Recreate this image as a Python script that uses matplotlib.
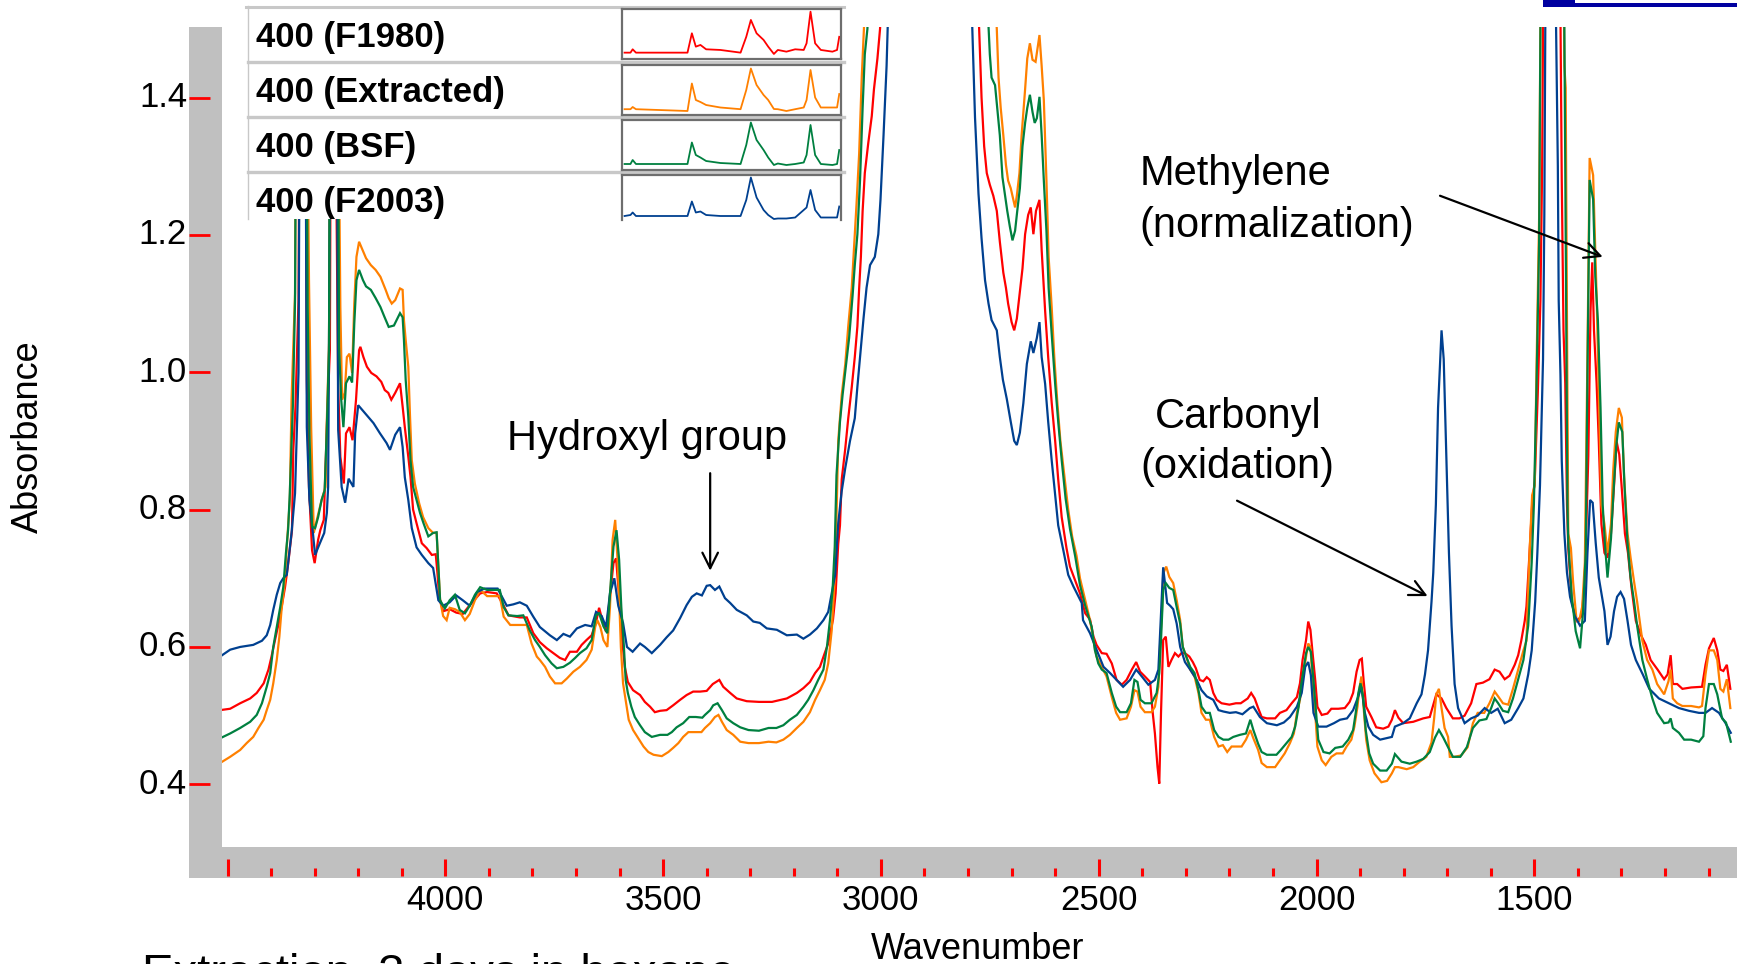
import numpy as np
import matplotlib
matplotlib.use("Agg")
import matplotlib.pyplot as plt
from matplotlib.patches import Rectangle
from matplotlib.transforms import blended_transform_factory

# ---------------- data (wavenumber, absorbance) ----------------
f1980 = [(4517, .508), (4494, .51), (4471, .518), (4448, .525), (4433, .533), (4417, .547), (4406, .567),
         (4399, .586), (4391, .61), (4381, .639), (4368, .687), (4361, .72), (4352, .77), (4349, .887),
         (4344, .95), (4337, 1.105), (4333, 1.6), (4322, 1.6), (4318, .989), (4313, .833), (4306, .741),
         (4300, .722), (4292, .756), (4287, .77), (4279, .785), (4272, .92), (4265, 1.032), (4262, 1.6),
         (4255, 1.6), (4246, .979), (4241, .877), (4233, .838), (4228, .911), (4220, .92), (4213, .901),
         (4205, .96), (4198, 1.032), (4195, 1.037), (4188, 1.022), (4180, 1.008), (4170, .999), (4158, .994),
         (4147, .986), (4139, .974), (4131, .97), (4124, .96), (4115, .97), (4104, .984), (4098, .95),
         (4093, .92), (4085, .877), (4080, .848), (4074, .80), (4066, .78), (4054, .751), (4043, .744),
         (4031, .734), (4022, .735), (4018, .707), (4014, .673), (4005, .652), (3990, .655), (3975, .65),
         (3960, .648), (3945, .66), (3920, .678), (3904, .68), (3882, .678), (3866, .66), (3855, .646),
         (3829, .643), (3813, .643), (3798, .62), (3783, .607), (3767, .598), (3752, .591), (3737, .584),
         (3725, .581), (3714, .593), (3698, .593), (3687, .603), (3676, .61), (3664, .617), (3653, .639),
         (3647, .657), (3640, .64), (3631, .622), (3623, .668), (3614, .722), (3608, .729), (3601, .673),
         (3596, .624), (3588, .571), (3581, .549), (3569, .537), (3553, .53), (3542, .52), (3530, .513),
         (3519, .505), (3507, .507), (3492, .508), (3477, .515), (3461, .523), (3446, .53), (3431, .535),
         (3415, .535), (3400, .536), (3386, .546), (3371, .552), (3362, .542), (3346, .533), (3331, .525),
         (3308, .521), (3280, .52), (3250, .52), (3216, .525), (3193, .533), (3178, .54), (3163, .549),
         (3151, .562), (3140, .571), (3129, .591), (3121, .605), (3110, .64), (3104, .678), (3098, .75),
         (3094, .777), (3090, .844), (3082, .888), (3075, .933), (3067, .978), (3060, 1.022), (3054, 1.067),
         (3050, 1.122), (3046, 1.168), (3042, 1.235), (3037, 1.29), (3029, 1.334), (3021, 1.373),
         (3016, 1.412), (3008, 1.457), (3002, 1.50), (2995, 1.6), (2780, 1.6), (2769, 1.40), (2763, 1.329),
         (2757, 1.29), (2750, 1.273), (2742, 1.257), (2734, 1.235), (2727, 1.19), (2719, 1.145),
         (2713, 1.123), (2708, 1.10), (2700, 1.073), (2694, 1.061), (2688, 1.078), (2682, 1.112),
         (2675, 1.151), (2669, 1.201), (2662, 1.229), (2656, 1.24), (2650, 1.201), (2644, 1.235),
         (2636, 1.251), (2631, 1.178), (2623, 1.089), (2616, 1.022), (2608, .956), (2600, .90), (2593, .844),
         (2585, .789), (2574, .744), (2566, .717), (2556, .70), (2543, .678), (2531, .649), (2520, .64),
         (2512, .615), (2505, .603), (2493, .591), (2482, .59), (2470, .576), (2459, .552), (2447, .545),
         (2436, .552), (2424, .567), (2414, .578), (2405, .564), (2394, .557), (2382, .549), (2376, .504),
         (2371, .474), (2365, .425), (2361, .401), (2357, .504), (2352, .61), (2346, .615), (2340, .571),
         (2333, .581), (2325, .591), (2317, .586), (2310, .591), (2302, .591), (2292, .586), (2284, .578),
         (2277, .569), (2268, .552), (2260, .55), (2252, .556), (2245, .552), (2237, .533), (2229, .523),
         (2218, .518), (2200, .516), (2185, .518), (2174, .518), (2158, .525), (2150, .533), (2142, .525),
         (2134, .511), (2126, .498), (2114, .496), (2095, .496), (2084, .504), (2069, .508), (2057, .518),
         (2045, .527), (2038, .547), (2032, .581), (2024, .61), (2019, .637), (2014, .625), (2009, .591),
         (2003, .552), (1998, .513), (1988, .501), (1975, .503), (1966, .51), (1950, .51), (1935, .511),
         (1924, .52), (1916, .533), (1908, .564), (1901, .581), (1896, .583), (1892, .552), (1886, .513),
         (1874, .498), (1863, .483), (1847, .481), (1835, .484), (1827, .494), (1820, .508), (1812, .497),
         (1801, .489), (1778, .491), (1755, .496), (1740, .498), (1725, .531), (1713, .525), (1702, .511),
         (1687, .496), (1672, .496), (1660, .50), (1645, .518), (1633, .546), (1618, .548), (1603, .553),
         (1591, .567), (1580, .564), (1568, .553), (1557, .558), (1545, .574), (1537, .588), (1530, .609),
         (1522, .638), (1518, .659), (1511, .737), (1505, .807), (1499, .842), (1492, .97), (1486, 1.104),
         (1482, 1.301), (1479, 1.6), (1441, 1.6), (1437, 1.28), (1433, 1.061), (1429, .984), (1425, .807),
         (1422, .744), (1414, .666), (1403, .638), (1391, .645), (1384, .701), (1376, .878), (1371, 1.089),
         (1367, 1.16), (1363, 1.061), (1357, .984), (1352, .899), (1346, .779), (1339, .737), (1332, .73),
         (1324, .765), (1317, .835), (1311, .899), (1305, .88), (1299, .829), (1292, .765), (1285, .737),
         (1277, .687), (1267, .638), (1255, .617), (1244, .603), (1233, .581), (1217, .567), (1202, .553),
         (1194, .56), (1187, .588), (1182, .546), (1172, .546), (1160, .539), (1140, .541), (1115, .542),
         (1107, .574), (1099, .598), (1088, .613), (1080, .595), (1073, .567), (1066, .565), (1058, .574),
         (1050, .539)]

extracted = [(4517, .431), (4494, .44), (4471, .45), (4456, .46), (4441, .469), (4429, .482), (4417, .494),
             (4410, .508), (4402, .523), (4395, .547), (4387, .581), (4381, .615), (4376, .654), (4368, .698),
             (4364, .746), (4357, .814), (4353, .96), (4345, 1.115), (4342, 1.6), (4320, 1.6), (4313, 1.134),
             (4308, .92), (4302, .766), (4295, .785), (4284, .814), (4275, .833), (4272, .931), (4267, 1.042),
             (4264, 1.6), (4248, 1.6), (4241, 1.095), (4237, .96), (4231, .97), (4226, 1.022), (4220, 1.027),
             (4214, .999), (4209, 1.10), (4204, 1.168), (4198, 1.19), (4190, 1.178), (4182, 1.166),
             (4171, 1.156), (4160, 1.149), (4149, 1.139), (4137, 1.12), (4130, 1.108), (4123, 1.10),
             (4115, 1.105), (4104, 1.122), (4098, 1.12), (4095, 1.076), (4091, 1.047), (4085, 1.008),
             (4081, .935), (4077, .872), (4070, .838), (4060, .809), (4051, .789), (4039, .773), (4028, .766),
             (4020, .766), (4016, .717), (4012, .668), (4005, .645), (3997, .639), (3990, .657), (3978, .655),
             (3967, .651), (3955, .639), (3944, .648), (3932, .668), (3920, .683), (3904, .674), (3875, .674),
             (3866, .644), (3851, .632), (3830, .632), (3813, .632), (3802, .605), (3790, .586), (3783, .581),
             (3771, .571), (3760, .557), (3748, .547), (3733, .547), (3721, .554), (3706, .564), (3691, .571),
             (3676, .581), (3664, .596), (3656, .629), (3651, .639), (3644, .629), (3637, .61), (3628, .60),
             (3622, .658), (3616, .756), (3610, .785), (3605, .731), (3601, .673), (3597, .60), (3592, .547),
             (3586, .523), (3579, .494), (3569, .479), (3557, .467), (3545, .455), (3534, .447), (3522, .443),
             (3503, .441), (3488, .447), (3477, .453), (3465, .46), (3454, .469), (3442, .476), (3427, .476),
             (3412, .476), (3404, .482), (3392, .489), (3381, .498), (3373, .501), (3365, .491), (3354, .479),
             (3339, .472), (3323, .462), (3304, .46), (3280, .46), (3258, .462), (3240, .461), (3224, .465),
             (3209, .472), (3193, .482), (3178, .491), (3163, .505), (3151, .523), (3140, .537), (3129, .552),
             (3121, .576), (3113, .624), (3106, .698), (3102, .789), (3098, .90), (3090, .967), (3082, 1.011),
             (3075, 1.067), (3067, 1.123), (3062, 1.179), (3056, 1.245), (3050, 1.318), (3044, 1.43),
             (3039, 1.50), (3034, 1.6), (2742, 1.6), (2734, 1.50), (2730, 1.429), (2725, 1.385), (2719, 1.345),
             (2713, 1.302), (2708, 1.279), (2702, 1.268), (2696, 1.251), (2692, 1.24), (2688, 1.257),
             (2682, 1.29), (2677, 1.345), (2669, 1.412), (2664, 1.457), (2658, 1.479), (2652, 1.455),
             (2645, 1.452), (2636, 1.491), (2631, 1.446), (2626, 1.396), (2620, 1.279), (2615, 1.168),
             (2608, 1.095), (2602, 1.022), (2595, .956), (2588, .90), (2580, .855), (2570, .80), (2561, .761),
             (2551, .733), (2543, .70), (2531, .668), (2520, .639), (2512, .61), (2505, .586), (2493, .571),
             (2482, .557), (2470, .527), (2460, .504), (2451, .494), (2436, .496), (2426, .513), (2418, .537),
             (2411, .535), (2404, .513), (2394, .505), (2379, .505), (2371, .513), (2363, .542), (2359, .605),
             (2355, .649), (2352, .707), (2345, .717), (2338, .702), (2329, .693), (2321, .668), (2313, .639),
             (2307, .60), (2299, .586), (2290, .567), (2280, .557), (2271, .533), (2264, .504), (2254, .494),
             (2245, .494), (2235, .469), (2225, .455), (2215, .457), (2205, .447), (2195, .455), (2184, .455),
             (2172, .455), (2162, .465), (2152, .479), (2145, .467), (2134, .45), (2126, .431), (2114, .425),
             (2095, .425), (2084, .435), (2073, .445), (2061, .46), (2052, .474), (2045, .504), (2038, .523),
             (2032, .552), (2024, .586), (2019, .605), (2014, .60), (2009, .552), (2003, .504), (1998, .455),
             (1988, .435), (1979, .428), (1966, .44), (1954, .445), (1940, .445), (1931, .455), (1920, .465),
             (1913, .484), (1906, .513), (1901, .542), (1897, .557), (1892, .513), (1886, .465), (1878, .435),
             (1867, .416), (1851, .403), (1838, .405), (1827, .416), (1820, .425), (1812, .425), (1793, .422),
             (1778, .425), (1763, .433), (1748, .44), (1736, .461), (1730, .496), (1725, .531), (1719, .539),
             (1713, .511), (1706, .482), (1698, .469), (1694, .44), (1683, .44), (1668, .442), (1653, .454),
             (1641, .489), (1630, .504), (1615, .504), (1603, .518), (1591, .535), (1583, .528), (1572, .518),
             (1560, .516), (1549, .539), (1537, .567), (1525, .595), (1518, .609), (1511, .737), (1505, .821),
             (1499, .835), (1495, 1.005), (1489, 1.224), (1485, 1.6), (1433, 1.6), (1431, 1.446), (1428, 1.414),
             (1425, 1.075), (1422, .765), (1416, .744), (1411, .695), (1403, .638), (1397, .638), (1390, .659),
             (1384, .723), (1378, 1.026), (1373, 1.312), (1365, 1.287), (1357, 1.111), (1352, .97), (1346, .807),
             (1339, .779), (1332, .737), (1324, .779), (1319, .856), (1313, .913), (1306, .948), (1299, .934),
             (1294, .849), (1286, .765), (1279, .73), (1271, .695), (1264, .666), (1252, .609), (1241, .581),
             (1229, .567), (1218, .546), (1202, .531), (1192, .55), (1187, .567), (1182, .525), (1172, .518),
             (1160, .514), (1140, .514), (1122, .512), (1115, .514), (1107, .56), (1099, .595), (1088, .595),
             (1080, .581), (1073, .539), (1066, .535), (1058, .553), (1050, .511)]

bsf = [(4517, .467), (4494, .474), (4471, .482), (4448, .491), (4433, .501), (4421, .518), (4410, .542),
       (4402, .562), (4395, .60), (4387, .629), (4379, .658), (4372, .687), (4366, .736), (4361, .77),
       (4357, .824), (4350, .95), (4345, 1.105), (4341, 1.6), (4320, 1.6), (4316, 1.095), (4312, .911),
       (4306, .775), (4299, .773), (4292, .789), (4284, .814), (4277, .828), (4272, .92), (4267, 1.032),
       (4264, 1.6), (4247, 1.6), (4244, 1.037), (4239, .96), (4234, .92), (4228, .984), (4220, .994),
       (4214, .985), (4209, 1.071), (4204, 1.134), (4198, 1.149), (4189, 1.134), (4182, 1.125), (4171, 1.12),
       (4160, 1.108), (4149, 1.095), (4140, 1.081), (4130, 1.066), (4118, 1.068), (4104, 1.086), (4098, 1.08),
       (4095, 1.047), (4091, .989), (4085, .935), (4080, .872), (4074, .833), (4066, .814), (4058, .795),
       (4050, .78), (4039, .761), (4028, .766), (4020, .767), (4016, .717), (4012, .668), (4001, .656),
       (3990, .668), (3978, .676), (3967, .654), (3955, .649), (3944, .66), (3932, .676), (3920, .687),
       (3904, .683), (3875, .683), (3866, .658), (3855, .646), (3835, .645), (3821, .646), (3806, .624),
       (3794, .61), (3783, .60), (3771, .588), (3756, .576), (3744, .569), (3729, .571), (3714, .577),
       (3702, .584), (3691, .591), (3676, .598), (3664, .61), (3654, .646), (3647, .649), (3637, .63),
       (3628, .62), (3622, .678), (3614, .746), (3607, .77), (3601, .727), (3596, .658), (3590, .60),
       (3586, .552), (3581, .533), (3573, .513), (3565, .498), (3553, .486), (3542, .476), (3526, .469),
       (3507, .472), (3490, .472), (3480, .476), (3469, .483), (3454, .489), (3440, .498), (3425, .498),
       (3410, .497), (3404, .501), (3392, .508), (3385, .515), (3375, .518), (3365, .508), (3354, .496),
       (3339, .489), (3323, .483), (3304, .479), (3280, .478), (3258, .482), (3240, .482), (3224, .486),
       (3209, .494), (3193, .501), (3178, .513), (3167, .523), (3155, .537), (3144, .552), (3132, .567),
       (3124, .60), (3117, .639), (3111, .683), (3106, .746), (3102, .85), (3094, .928), (3088, .967),
       (3080, 1.012), (3073, 1.05), (3065, 1.112), (3060, 1.156), (3054, 1.201), (3048, 1.279), (3042, 1.385),
       (3037, 1.463), (3031, 1.50), (3026, 1.6), (2760, 1.6), (2750, 1.463), (2746, 1.429), (2738, 1.418),
       (2733, 1.385), (2727, 1.345), (2721, 1.284), (2715, 1.257), (2710, 1.235), (2704, 1.212),
       (2698, 1.192), (2692, 1.206), (2687, 1.235), (2681, 1.268), (2675, 1.329), (2669, 1.363),
       (2664, 1.385), (2658, 1.404), (2652, 1.379), (2647, 1.363), (2642, 1.37), (2636, 1.401),
       (2631, 1.345), (2626, 1.279), (2620, 1.206), (2615, 1.123), (2608, 1.056), (2600, .983), (2593, .928),
       (2585, .872), (2576, .816), (2566, .772), (2554, .732), (2543, .69), (2531, .66), (2516, .629),
       (2509, .596), (2501, .576), (2493, .567), (2482, .562), (2470, .533), (2460, .513), (2451, .505),
       (2436, .505), (2426, .518), (2418, .552), (2411, .549), (2404, .523), (2394, .518), (2379, .518),
       (2367, .533), (2361, .562), (2357, .61), (2352, .683), (2346, .693), (2338, .686), (2329, .683),
       (2321, .658), (2313, .634), (2307, .60), (2299, .586), (2290, .571), (2280, .562), (2271, .537),
       (2264, .513), (2254, .504), (2245, .504), (2235, .479), (2225, .469), (2214, .465), (2202, .465),
       (2191, .469), (2176, .472), (2162, .474), (2152, .494), (2145, .479), (2134, .459), (2126, .447),
       (2114, .443), (2092, .443), (2082, .45), (2069, .46), (2057, .469), (2049, .484), (2041, .513),
       (2036, .542), (2030, .567), (2024, .591), (2019, .60), (2013, .593), (2007, .552), (2001, .504),
       (1996, .465), (1984, .447), (1970, .445), (1957, .453), (1940, .455), (1927, .465), (1916, .479),
       (1910, .504), (1904, .533), (1899, .547), (1893, .527), (1887, .479), (1879, .445), (1870, .43),
       (1854, .42), (1839, .42), (1827, .43), (1820, .444), (1805, .433), (1786, .43), (1770, .433),
       (1755, .437), (1740, .447), (1728, .468), (1719, .479), (1709, .468), (1698, .454), (1687, .44),
       (1670, .44), (1655, .454), (1641, .482), (1626, .493), (1610, .495), (1599, .511), (1591, .525),
       (1583, .518), (1572, .507), (1560, .505), (1549, .525), (1537, .553), (1525, .581), (1514, .631),
       (1506, .723), (1501, .807), (1495, .977), (1489, 1.188), (1485, 1.6), (1432, 1.6), (1427, 1.089),
       (1424, .807), (1422, .751), (1414, .673), (1405, .623), (1395, .598), (1388, .652), (1382, .737),
       (1378, .997), (1373, 1.28), (1365, 1.252), (1360, 1.139), (1354, 1.075), (1348, .948), (1343, .807),
       (1338, .751), (1332, .701), (1324, .758), (1318, .828), (1312, .892), (1306, .927), (1298, .913),
       (1293, .835), (1286, .751), (1279, .701), (1271, .666), (1264, .631), (1252, .581), (1241, .553),
       (1229, .525), (1218, .504), (1202, .489), (1192, .49), (1187, .496), (1182, .482), (1168, .475),
       (1156, .465), (1140, .465), (1122, .462), (1112, .47), (1107, .511), (1099, .546), (1088, .546),
       (1080, .531), (1069, .496), (1060, .49), (1049, .462)]

f2003 = [(4517, .586), (4494, .596), (4471, .60), (4441, .603), (4421, .609), (4410, .617), (4402, .632),
         (4395, .654), (4387, .676), (4379, .693), (4372, .70), (4364, .705), (4353, .766), (4345, .824),
         (4337, 1.0), (4333, 1.6), (4322, 1.6), (4318, .92), (4312, .814), (4304, .766), (4299, .734),
         (4288, .751), (4278, .766), (4272, .795), (4269, .833), (4262, 1.6), (4250, 1.6), (4246, .916),
         (4238, .833), (4230, .81), (4222, .845), (4211, .833), (4207, .911), (4200, .952), (4180, .937),
         (4165, .926), (4150, .911), (4135, .897), (4127, .887), (4115, .909), (4104, .92), (4098, .891),
         (4093, .847), (4085, .814), (4077, .773), (4066, .745), (4054, .734), (4039, .722), (4028, .715),
         (4016, .668), (4005, .66), (3990, .665), (3975, .675), (3960, .668), (3944, .66), (3927, .68),
         (3910, .685), (3880, .685), (3859, .66), (3844, .662), (3829, .665), (3813, .66), (3798, .644),
         (3783, .629), (3760, .617), (3744, .61), (3729, .619), (3714, .615), (3698, .627), (3679, .632),
         (3664, .63), (3654, .651), (3641, .645), (3631, .629), (3622, .678), (3612, .70), (3603, .66),
         (3592, .635), (3583, .60), (3570, .593), (3553, .605), (3542, .60), (3526, .591), (3507, .603),
         (3492, .614), (3477, .624), (3461, .642), (3446, .661), (3434, .673), (3423, .678), (3411, .675),
         (3400, .689), (3392, .69), (3381, .683), (3371, .688), (3358, .671), (3346, .664), (3331, .654),
         (3308, .646), (3293, .637), (3278, .635), (3262, .627), (3239, .625), (3216, .617), (3193, .618),
         (3178, .612), (3163, .618), (3147, .627), (3132, .639), (3121, .651), (3113, .678), (3105, .705),
         (3098, .78), (3090, .827), (3082, .86), (3071, .90), (3060, .933), (3054, .979), (3048, 1.022),
         (3040, 1.078), (3033, 1.123), (3025, 1.156), (3014, 1.168), (3006, 1.201), (3001, 1.251),
         (2994, 1.345), (2987, 1.446), (2980, 1.6), (2795, 1.6), (2784, 1.371), (2776, 1.26), (2769, 1.195),
         (2761, 1.134), (2753, 1.10), (2746, 1.076), (2734, 1.061), (2727, 1.022), (2720, .989), (2711, .961),
         (2702, .928), (2694, .90), (2688, .894), (2681, .912), (2673, .955), (2665, 1.012), (2656, 1.045),
         (2650, 1.028), (2642, 1.05), (2636, 1.073), (2631, 1.022), (2623, .983), (2616, .928), (2608, .872),
         (2600, .822), (2593, .777), (2581, .74), (2570, .705), (2558, .688), (2539, .664), (2536, .639),
         (2520, .62), (2505, .596), (2489, .571), (2474, .562), (2459, .552), (2444, .542), (2428, .552),
         (2414, .567), (2401, .557), (2386, .545), (2371, .552), (2363, .567), (2352, .716), (2343, .664),
         (2336, .66), (2329, .655), (2321, .634), (2313, .60), (2302, .578), (2290, .567), (2275, .552),
         (2264, .537), (2252, .528), (2237, .523), (2225, .508), (2214, .506), (2199, .504), (2185, .505),
         (2170, .502), (2153, .511), (2145, .513), (2130, .498), (2114, .489), (2091, .486), (2075, .49),
         (2061, .498), (2045, .513), (2034, .533), (2026, .571), (2019, .578), (2013, .559), (2007, .504),
         (1996, .484), (1977, .484), (1960, .489), (1946, .494), (1930, .496), (1916, .508), (1904, .528),
         (1897, .542), (1889, .504), (1881, .484), (1870, .472), (1854, .465), (1840, .467), (1827, .469),
         (1820, .484), (1801, .489), (1786, .496), (1770, .518), (1759, .531), (1751, .56), (1744, .595),
         (1736, .666), (1732, .708), (1726, .807), (1721, .948), (1713, 1.061), (1708, 1.019), (1702, .877),
         (1696, .737), (1690, .631), (1683, .546), (1675, .511), (1660, .489), (1645, .496), (1630, .50),
         (1614, .511), (1599, .504), (1584, .51), (1568, .489), (1553, .494), (1537, .511), (1525, .525),
         (1514, .56), (1506, .595), (1498, .666), (1493, .737), (1487, .835), (1480, 1.019), (1477, 1.23),
         (1474, 1.6), (1452, 1.6), (1446, 1.30), (1444, 1.104), (1440, .997), (1437, .871), (1431, .765),
         (1425, .708), (1418, .673), (1407, .645), (1395, .631), (1384, .638), (1378, .737), (1372, .814),
         (1366, .81), (1359, .751), (1352, .701), (1339, .652), (1332, .603), (1325, .615), (1317, .652),
         (1310, .673), (1302, .68), (1294, .67), (1286, .638), (1278, .603), (1267, .581), (1251, .56),
         (1236, .539), (1214, .525), (1191, .518), (1168, .511), (1145, .507), (1122, .504), (1107, .504),
         (1092, .511), (1076, .504), (1061, .489), (1049, .475)]

series_labels = ["400 (F1980)", "400 (Extracted)", "400 (BSF)", "400 (F2003)"]
series_colors = ["#FF0000", "#FF8000", "#008040", "#004090"]

# legend thumbnails (relative position, relative height)
thumb_x = [0.013, 0.04, 0.05, 0.065, 0.30, 0.32, 0.338, 0.359, 0.385, 0.45, 0.542, 0.568, 0.589, 0.615,
           0.647, 0.668, 0.694, 0.712, 0.751, 0.791, 0.83, 0.843, 0.861, 0.882, 0.908, 0.961, 0.982, 0.992]
thumb_f1980 = [0.133, 0.133, 0.2, 0.133, 0.133, 0.52, 0.253, 0.287, 0.2, 0.187, 0.133, 0.45, 0.787, 0.52,
               0.387, 0.253, 0.107, 0.187, 0.153, 0.2, 0.187, 0.32, 0.953, 0.32, 0.187, 0.153, 0.187, 0.45]
thumb_extracted = [0.116, 0.116, 0.16, 0.116, 0.08, 0.63, 0.3, 0.26, 0.2, 0.15, 0.116, 0.5, 0.93, 0.6,
                   0.4, 0.3, 0.12, 0.116, 0.08, 0.116, 0.15, 0.3, 0.9, 0.35, 0.15, 0.15, 0.15, 0.42]
thumb_bsf = [0.12, 0.12, 0.2, 0.12, 0.12, 0.55, 0.3, 0.25, 0.18, 0.14, 0.12, 0.5, 0.95, 0.6,
             0.4, 0.25, 0.1, 0.13, 0.1, 0.12, 0.15, 0.3, 0.9, 0.3, 0.12, 0.1, 0.12, 0.4]
thumb_f2003 = [0.18, 0.2, 0.25, 0.18, 0.18, 0.47, 0.25, 0.27, 0.2, 0.18, 0.18, 0.5, 0.95, 0.55,
               0.3, 0.2, 0.12, 0.13, 0.13, 0.15, 0.3, 0.35, 0.7, 0.3, 0.15, 0.15, 0.15, 0.37]

y_ticks = [0.4, 0.6, 0.8, 1.0, 1.2, 1.4]
x_major = [4500, 4000, 3500, 3000, 2500, 2000, 1500, 1000]
x_minor = [4400, 4300, 4200, 4100, 3900, 3800, 3700, 3600, 3400, 3300, 3200, 3100, 2900, 2800, 2700,
           2600, 2400, 2300, 2200, 2100, 1900, 1800, 1700, 1600, 1400, 1300, 1200, 1100]
x_labels = [4000, 3500, 3000, 2500, 2000, 1500]

# ---------------- figure ----------------
plt.rcParams['font.family'] = ['Liberation Sans', 'DejaVu Sans']
W, H = 1737, 964
fig = plt.figure(figsize=(W / 100, H / 100), dpi=100)
fig.patch.set_facecolor('white')


def fx(px):
    return px / W


def fy(py):
    return 1 - py / H


GRAY = '#C0C0C0'
# gray frame bars (behind everything)
fig.patches.append(Rectangle((fx(189.4), fy(878)), fx(221.6) - fx(189.4), fy(27) - fy(878),
                             transform=fig.transFigure, facecolor=GRAY, edgecolor='none', zorder=-2))
fig.patches.append(Rectangle((fx(189.4), fy(878)), 1 - fx(189.4), fy(847) - fy(878),
                             transform=fig.transFigure, facecolor=GRAY, edgecolor='none', zorder=-2))

ax = fig.add_axes([fx(221.6), fy(847), 1 - fx(221.6), fy(27) - fy(847)])
ax.set_zorder(1)
ax.set_xlim(4513.6, 1034.7)
ax.set_ylim(0.3087, 1.5027)
ax.axis('off')

for data, col in [(f1980, series_colors[0]), (extracted, series_colors[1]),
                  (f2003, series_colors[3]), (bsf, series_colors[2])]:
    arr = np.array(data)
    ax.plot(arr[:, 0], arr[:, 1], color=col, lw=1.6, solid_joinstyle='miter')

# y ticks (red marks inside gray bar) and labels
ty = blended_transform_factory(fig.transFigure, ax.transData)
for v in y_ticks:
    ax.plot([fx(189.4), fx(209.5)], [v, v], transform=ty, color='#FF0000', lw=2.0,
            clip_on=False, solid_capstyle='butt')
    ax.text(fx(187), v, f"{v:.1f}", transform=ty, ha='right', va='center', fontsize=25, color='black')

# x ticks
tx = blended_transform_factory(ax.transData, fig.transFigure)
for v in x_major:
    if ax.get_xlim()[1] <= v <= ax.get_xlim()[0]:
        ax.plot([v, v], [fy(876), fy(859)], transform=tx, color='#FF0000', lw=2.2,
                clip_on=False, solid_capstyle='butt')
for v in x_minor:
    ax.plot([v, v], [fy(876), fy(868)], transform=tx, color='#FF0000', lw=2.2,
            clip_on=False, solid_capstyle='butt')
for v in x_labels:
    ax.text(v, fy(900), str(v), transform=tx, ha='center', va='center', fontsize=25, color='black')

fig.text(fx(978), fy(959), "Wavenumber", ha='center', va='baseline', fontsize=26)
fig.text(fx(28), fy(437), "Absorbance", ha='center', va='center', rotation=90, fontsize=26)
fig.text(fx(142), fy(986.6), "Extraction, 3 days in hexane", ha='left', va='baseline', fontsize=34)

# annotations
ann_kw = dict(arrowstyle='->', color='black', lw=1.6, mutation_scale=28, shrinkA=0, shrinkB=0)
ax.annotate("", xy=(3392, 0.711), xytext=(3392, 0.853), arrowprops=ann_kw)
ax.annotate("", xy=(1343, 1.168), xytext=(1716.5, 1.257), arrowprops=ann_kw)
ax.annotate("", xy=(1745, 0.674), xytext=(2182.5, 0.813), arrowprops=ann_kw)
fig.text(fx(647), fy(450), "Hydroxyl group", ha='center', va='baseline', fontsize=30)
fig.text(fx(1139.6), fy(185), "Methylene", ha='left', va='baseline', fontsize=30)
fig.text(fx(1139.6), fy(237), "(normalization)", ha='left', va='baseline', fontsize=30)
fig.text(fx(1238), fy(428), "Carbonyl", ha='center', va='baseline', fontsize=30)
fig.text(fx(1237), fy(478), "(oxidation)", ha='center', va='baseline', fontsize=30)

# top-right partial box
fig.patches.append(Rectangle((fx(1543), fy(6.7)), 1 - fx(1543), fy(0) - fy(6.7),
                             transform=fig.transFigure, facecolor='#0000A0', edgecolor='none', zorder=1))
fig.patches.append(Rectangle((fx(1575), fy(3.3)), 1 - fx(1575), fy(0) - fy(3.3),
                             transform=fig.transFigure, facecolor='white', edgecolor='none', zorder=2))

# legend panel (pixel coordinates)
lax = fig.add_axes([0, 0, 1, 1])
lax.set_xlim(0, W)
lax.set_ylim(H, 0)
lax.axis('off')
lax.set_zorder(5)
lax.add_patch(Rectangle((246, 5), 596, 214, facecolor='white', edgecolor='none'))
lax.plot([246, 844], [6.5, 6.5], color='#C8C8C8', lw=2.2)
lax.plot([247.5, 247.5], [6, 219], color='#C8C8C8', lw=1.0)
for ysep in [62, 117, 172]:
    lax.plot([248, 844], [ysep, ysep], color='#C8C8C8', lw=2.4)

text_baselines = [46.7, 101.7, 157, 212]
thumb_tops = [9.3, 65, 120, 175]
thumbs = [thumb_f1980, thumb_extracted, thumb_bsf, thumb_f2003]
for i in range(4):
    lax.text(255.5, text_baselines[i], series_labels[i], ha='left', va='baseline',
             fontsize=25, fontweight='bold', color='black')
    top = thumb_tops[i]
    bottom = min(top + 50, 219.5)
    tax = fig.add_axes([fx(621.7), fy(bottom), fx(841) - fx(621.7), fy(top) - fy(bottom)])
    tax.set_zorder(6)
    tax.set_xlim(0, 1)
    lo = (top + 50 - bottom) / 50.0
    tax.set_ylim(lo, 1.0)
    tax.set_xticks([])
    tax.set_yticks([])
    for s in tax.spines.values():
        s.set_color('#6E6E6E')
        s.set_linewidth(1.6)
    if i == 3:
        tax.spines['bottom'].set_visible(False)
    tax.plot(thumb_x, thumbs[i], color=series_colors[i], lw=1.3)

fig.savefig("out.png", dpi=100)
